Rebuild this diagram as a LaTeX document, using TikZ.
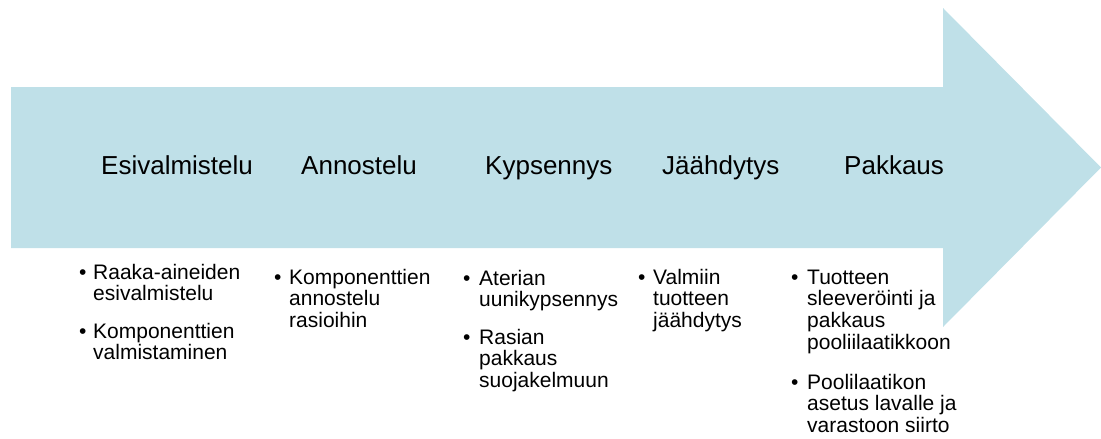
\documentclass[tikz,border=0pt]{standalone}
\usepackage{fontspec}
\setmainfont{Liberation Sans}
\definecolor{arrowblue}{RGB}{191,224,232}
\begin{document}
\begin{tikzpicture}[x=1pt,y=-1pt,
  head/.style={anchor=base west,inner sep=0pt,font=\fontsize{26}{28}\selectfont},
  item/.style={anchor=base west,inner sep=0pt,align=left,font=\fontsize{21}{21.7}\selectfont},
  bul/.style={anchor=base west,inner sep=0pt,font=\fontsize{21}{21.7}\selectfont}]
\useasboundingbox (0,0) rectangle (1101,439);
\fill[arrowblue] (11,87) -- (943,87) -- (943,8) -- (1101,167.5) -- (943,327) -- (943,248) -- (11,248) -- cycle;
% headings
\node[head] (h1) at (101,174) {Esivalmistelu};
\node[head] (h2) at (301,174) {Annostelu};
\node[head] (h3) at (485,174) {Kypsennys};
\node[head] (h4) at (662,174) {Jäähdytys};
\node[head] (h5) at (844,174) {Pakkaus};
% column 1 (item anchors at the baseline of the last line)
\node[bul] (b11) at (79,279) {•};
\node[item] (i11) at (93,300.7) {Raaka-aineiden\\esivalmistelu};
\node[bul] (b12) at (79,338) {•};
\node[item] (i12) at (93,359.7) {Komponenttien\\valmistaminen};
% column 2
\node[bul] (b21) at (274,284) {•};
\node[item] (i21) at (289,327.4) {Komponenttien\\annostelu\\rasioihin};
% column 3
\node[bul] (b31) at (463,285) {•};
\node[item] (i31) at (479,306.7) {Aterian\\uunikypsennys};
\node[bul] (b32) at (463,344) {•};
\node[item] (i32) at (479,387.4) {Rasian\\pakkaus\\suojakelmuun};
% column 4
\node[bul] (b41) at (638,284) {•};
\node[item] (i41) at (653,327.4) {Valmiin\\tuotteen\\jäähdytys};
% column 5
\node[bul] (b51) at (791,284) {•};
\node[item] (i51) at (807,349.1) {Tuotteen\\sleeveröinti ja\\pakkaus\\pooliilaatikkoon};
\node[bul] (b52) at (791,389) {•};
\node[item] (i52) at (807,432.4) {Poolilaatikon\\asetus lavalle ja\\varastoon siirto};
\end{tikzpicture}
\end{document}
